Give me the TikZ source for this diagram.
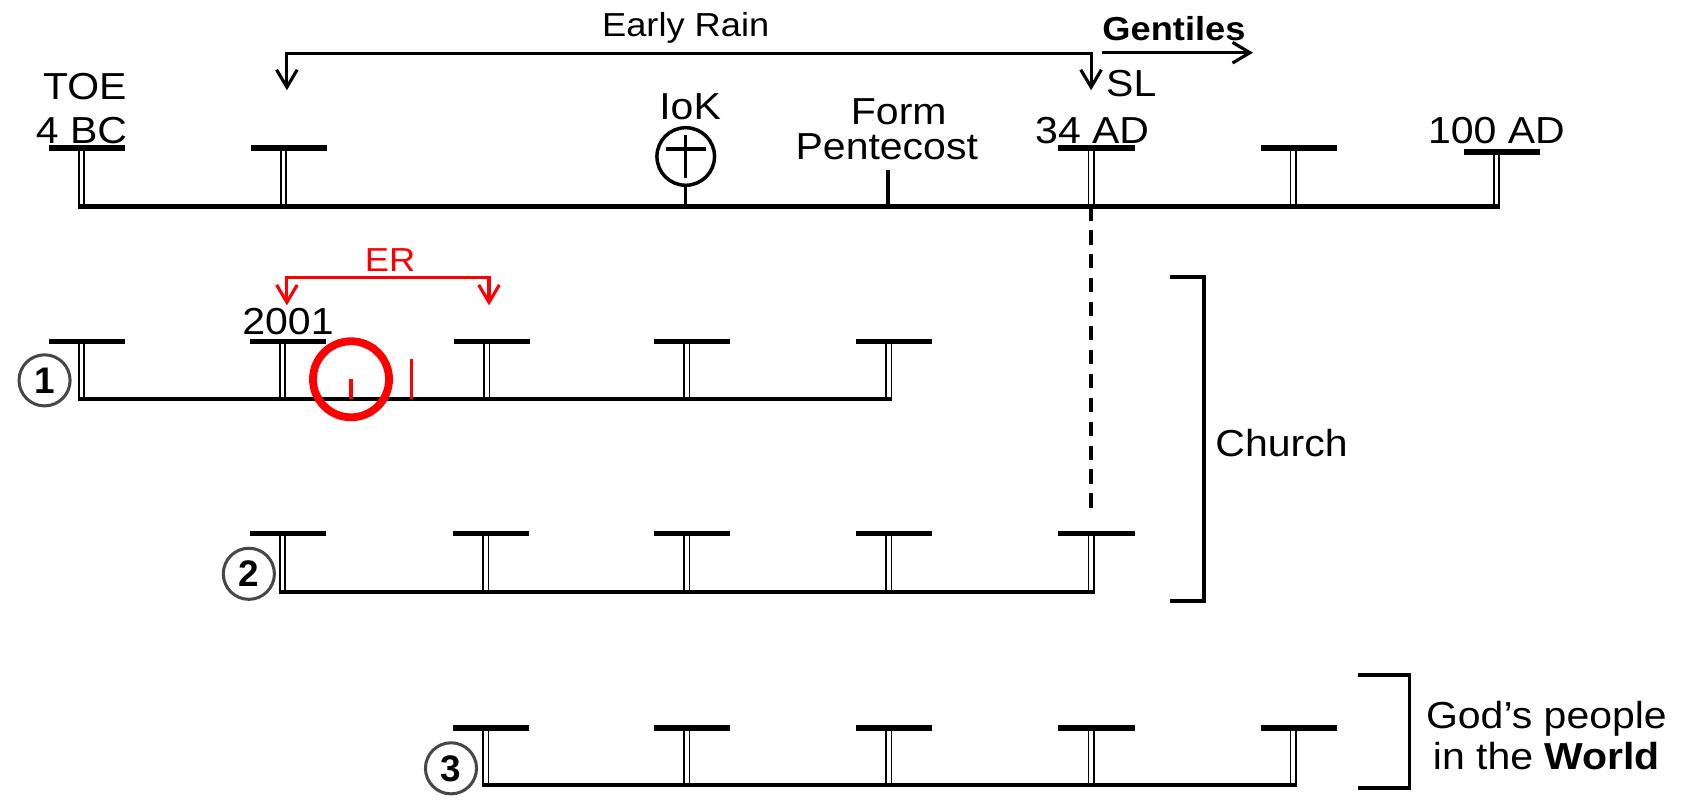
\documentclass[tikz,border=0pt]{standalone}
\usepackage{fontspec}
\setmainfont{Liberation Sans}
\usetikzlibrary{arrows.meta,positioning}

\tikzset{
  track/.style={line width=1.9pt},
  tbar/.style={line width=2.5pt},
  tstem/.style={draw=black, double=white, line width=0.75pt, double distance=1.7pt},
  lbl/.style={font=\fontsize{17.3}{20}\selectfont, xscale=1.09, inner sep=0pt},
  smlbl/.style={font=\fontsize{15.3}{18}\selectfont, xscale=1.09, inner sep=0pt},
  num/.style={circle, draw=black!72, line width=1.4pt, minimum size=23.5pt, inner sep=0pt,
    font=\fontsize{17}{20}\selectfont\bfseries},
  brk/.style={line width=1.6pt},
  oneway/.style={line width=1.45pt, -{Straight Barb[length=8pt,width=9.5pt]}},
  twoway/.style={line width=1.45pt,
    {Straight Barb[length=8pt,width=9.5pt]}-{Straight Barb[length=8pt,width=9.5pt]}},
}

\begin{document}
\begin{tikzpicture}[x=0.5pt,y=-0.5pt]
  \useasboundingbox (0,0) rectangle (1568,737);

  % first age: the apostolic time line
  \foreach \x/\y [count=\i] in {75/136,261/136,1004/136,1190/136,1377/140} {
    \coordinate (r0t\i) at (\x,\y);
    \coordinate (r0b\i) at (\x,190);
    \draw[tstem] (r0t\i) -- (r0b\i);
    \draw[tbar] ([xshift=-15pt]r0t\i) -- ([xshift=20pt]r0t\i);
  }
  \node[circle, draw, line width=1.6pt, minimum size=26.5pt, inner sep=0pt] (iokc) at (631,144) {};
  \draw[line width=1.6pt] (613,137) -- (650,137);
  \draw[line width=1.6pt] (631,124) -- (631,164);
  \draw[line width=1.6pt] (iokc.south) -- (iokc.south |- r0b1);
  \coordinate (pentb) at (817,190);
  \draw[line width=1.6pt] (pentb) -- ++(0,-34);
  \draw[track] ([xshift=-1.6pt]r0b1) -- ([xshift=1.6pt]r0b5);

  \node[lbl, anchor=base] (bc) at (75,132) {4 BC};
  \node[lbl, anchor=base] (toe) at (78,92) {TOE};
  \node[lbl, anchor=base] (iok) at (635,110) {IoK};
  \node[lbl, anchor=base] (form) at (827,115) {Form};
  \node[lbl, anchor=base] (pent) at (816,147) {Pentecost};
  \node[lbl, anchor=base] (sl) at (1041,89) {SL};
  \node[lbl, anchor=base] (ad34) at (1005,132) {34 AD};
  \node[lbl, anchor=base] (ad100) at (1377,132) {100 AD};

  \coordinate (rainl) at (264,83);
  \coordinate (rainr) at (1004,83);
  \draw[twoway] (rainl) -- ++(0,-34) -| (rainr);
  \node[smlbl, anchor=base] (rain) at (631,34) {Early Rain};
  \coordinate (gentl) at (1014,48.5);
  \coordinate (gentr) at (1153,48.5);
  \draw[oneway] (gentl) -- (gentr);
  \node[smlbl, anchor=base west] (gent) at (1014,37.5) {\bfseries Gentiles};

  % row 1
  \foreach \x [count=\i] in {75,260,448,632,818} {
    \coordinate (r1t\i) at (\x,314);
    \coordinate (r1b\i) at (\x,367);
    \draw[tstem] (r1t\i) -- (r1b\i);
    \draw[tbar] ([xshift=-15pt]r1t\i) -- ([xshift=20pt]r1t\i);
  }
  \draw[track] ([xshift=-1.6pt]r1b1) -- ([xshift=1.6pt]r1b5);
  \node[num] (n1) at (41,350) {1};
  \node[lbl, anchor=base] (y2001) at (265,308) {2001};
  \coordinate (erl) at (264,281);
  \coordinate (err) at (450,281);
  \draw[twoway, red] (erl) -- ++(0,-26) -| (err);
  \node[smlbl, anchor=base, text=red] (er) at (359,250) {ER};
  \node[circle, draw=red, line width=3.6pt, minimum size=35pt, inner sep=0pt] (ring) at (323,349) {};
  \draw[red, line width=1.4pt] (ring.center) -- (ring.center |- r1b1);
  \coordinate (tick) at (379,367);
  \draw[red, line width=1.4pt] (tick) -- ++(0,-37);

  % row 2
  \foreach \x [count=\i] in {260,447,632,818,1004} {
    \coordinate (r2t\i) at (\x,491);
    \coordinate (r2b\i) at (\x,545);
    \draw[tstem] (r2t\i) -- (r2b\i);
    \draw[tbar] ([xshift=-15pt]r2t\i) -- ([xshift=20pt]r2t\i);
  }
  \draw[track] ([xshift=-1.6pt]r2b1) -- ([xshift=1.6pt]r2b5);
  \node[num] (n2) at (229,528) {2};
  \draw[line width=1.6pt, dash pattern=on 6.5pt off 4.5pt] (r0b3) -- ([yshift=9.5pt]r2t5);

  % row 3
  \foreach \x [count=\i] in {447,632,818,1004,1190} {
    \coordinate (r3t\i) at (\x,670);
    \coordinate (r3b\i) at (\x,722);
    \draw[tstem] (r3t\i) -- (r3b\i);
    \draw[tbar] ([xshift=-15pt]r3t\i) -- ([xshift=20pt]r3t\i);
  }
  \draw[track] ([xshift=-1.6pt]r3b1) -- ([xshift=1.6pt]r3b5);
  \node[num] (n3) at (415,707) {3};

  % brackets
  \coordinate (chtop) at (1077,255);
  \coordinate (chbot) at (1077,553);
  \draw[brk] (chtop) -- ++(31,0) |- (chbot);
  \node[lbl, anchor=base west] (church) at (1118,420) {Church};
  \coordinate (wtop) at (1250,621);
  \coordinate (wbot) at (1250,725);
  \draw[brk] (wtop) -- ++(47,0) |- (wbot);
  \node[lbl, anchor=base] (gods) at (1423,670) {God’s people};
  \node[lbl, anchor=base] (world) at (1423,708) {in the \textbf{World}};
\end{tikzpicture}
\end{document}
